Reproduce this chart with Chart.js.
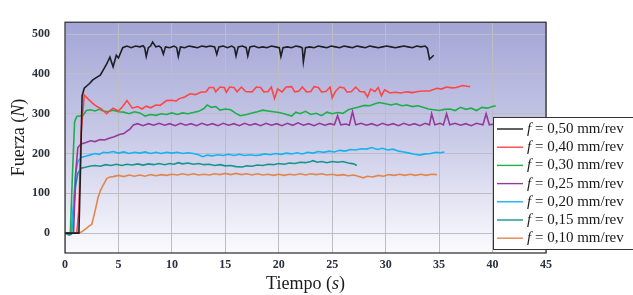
<!DOCTYPE html>
<html>
<head>
<meta charset="utf-8">
<script src="https://cdn.jsdelivr.net/npm/chart.js@4.4.1/dist/chart.umd.min.js"></script>
<style>
  html, body { margin: 0; padding: 0; background: #ffffff; }
  #wrap { width: 633px; height: 295px; }
</style>
</head>
<body>
<div id="wrap"><canvas id="fuerzaChart" width="633" height="295"></canvas></div>
<script>
// Tick labels
const xTicks = [0, 5, 10, 15, 20, 25, 30, 35, 40, 45];
const yTicks = [0, 100, 200, 300, 400, 500];

// Feed rates (legend)
const feeds = ['0,50', '0,40', '0,30', '0,25', '0,20', '0,15', '0,10'];
const colors = ['#1e1e24', '#ff4646', '#1fae4c', '#96399a', '#19b2f0', '#17948f', '#e0874f'];

// Series: [tiempo (s), fuerza (N)]
const f050 = [[0,0],[1.3,0],[1.45,160],[1.6,345],[1.8,364],[2,369],[2.3,376],[2.6,385],[3,392],[3.3,397],[3.6,411],[3.9,425],[4.2,442],[4.5,418],[4.8,447],[5,440],[5.4,466],[5.8,470],[6.2,466],[6.6,470],[7,468],[7.3,471],[7.45,466],[7.6,444],[7.8,466],[8,470],[8.2,480],[8.5,468],[8.8,470],[9,466],[9.2,450],[9.4,468],[9.8,466],[10.2,470],[10.45,466],[10.6,444],[10.8,468],[11.2,466],[11.6,470],[12,468],[12.4,466],[12.8,470],[13.2,468],[13.6,470],[14,468],[14.2,449],[14.4,468],[14.8,470],[15.2,466],[15.6,470],[15.85,466],[16,445],[16.2,468],[16.6,470],[16.95,466],[17.1,445],[17.3,468],[17.7,470],[18.1,466],[18.5,468],[18.9,466],[19.3,470],[19.7,468],[20.05,466],[20.2,444],[20.4,466],[20.8,468],[21.2,466],[21.6,470],[22,468],[22.2,465],[22.3,430],[22.5,466],[22.9,468],[23.3,466],[23.7,470],[24.1,468],[24.5,466],[24.9,470],[25.3,468],[25.7,466],[26.1,470],[26.5,468],[26.9,466],[27.3,470],[27.7,468],[28.1,466],[28.5,470],[28.9,468],[29.3,466],[29.7,468],[30.1,470],[30.5,468],[30.9,466],[31.3,468],[31.7,470],[32.1,468],[32.5,466],[32.9,470],[33.3,468],[33.7,470],[33.9,465],[34.1,437],[34.3,442],[34.5,447]];

const f040 = [[0,0],[1.1,0],[1.3,60],[1.5,250],[1.8,347],[2.2,336],[2.6,326],[3,318],[3.4,312],[3.9,300],[4.2,308],[4.5,314],[5,307],[5.4,318],[5.8,333],[6.3,314],[6.8,318],[7.2,312],[7.6,319],[8,315],[8.5,322],[8.9,321],[9.5,333],[10,334],[10.4,332],[10.7,338],[11.2,342],[11.7,350],[12.2,348],[12.7,354],[13.2,355],[13.5,366],[13.9,366],[14.1,355],[14.5,367],[14.9,366],[15.1,354],[15.4,367],[15.8,366],[16.1,355],[16.5,367],[16.9,356],[17.5,355],[17.9,367],[18.3,366],[18.6,355],[19,356],[19.3,367],[19.6,338],[19.9,362],[20.3,355],[20.7,367],[21.2,368],[21.5,355],[21.9,357],[22.2,367],[22.6,355],[23,356],[23.3,368],[23.7,366],[24,355],[24.4,356],[24.8,367],[25,340],[25.3,356],[25.7,367],[26.1,365],[26.4,354],[26.8,356],[27.2,367],[27.6,356],[28,355],[28.3,342],[28.6,362],[29,356],[29.3,366],[29.6,345],[29.9,360],[30.4,352],[30.9,354],[31.4,352],[32,355],[32.5,353],[33,356],[33.5,357],[34.1,357],[34.8,364],[35.2,362],[35.7,367],[36.2,365],[36.6,366],[37.2,371],[37.6,369],[37.9,368]];

const f030 = [[0,0],[0.5,0],[0.7,150],[0.9,280],[1.1,293],[1.5,295],[1.7,296],[2,308],[2.4,310],[2.8,307],[3.2,311],[3.6,307],[4,305],[4.5,309],[5,305],[5.5,304],[6,300],[6.5,305],[7,302],[7.5,294],[8,298],[8.5,296],[9,300],[9.5,298],[10,302],[10.5,298],[11,302],[11.5,300],[12,303],[12.5,306],[13,313],[13.3,322],[13.7,316],[14.1,318],[14.5,309],[15,312],[15.5,310],[16,301],[16.4,295],[17,298],[17.5,302],[18,305],[18.5,309],[19,307],[19.5,305],[20,303],[20.5,300],[21.2,294],[21.6,304],[22,300],[22.5,306],[23,298],[23.5,301],[24,295],[24.5,304],[25,300],[25.5,303],[26,301],[26.5,310],[27,314],[27.5,317],[28,321],[28.5,320],[29,325],[29.4,328],[30,325],[30.5,322],[31,325],[31.5,320],[32,322],[32.5,318],[33,320],[33.5,316],[34,312],[34.5,310],[35,308],[35.5,311],[36,312],[36.5,308],[37,316],[37.5,311],[38,314],[38.5,308],[39,316],[39.5,314],[40,318],[40.3,320]];

const f025 = [[0,0],[0.8,0],[1,150],[1.2,215],[1.5,224],[1.9,227],[2.4,232],[2.8,230],[3.3,235],[3.7,234],[4.2,239],[4.6,242],[5.1,248],[5.5,250],[5.8,256],[6.1,262],[6.4,272],[6.8,275],[7.3,270],[7.8,275],[8.3,271],[8.8,276],[9.3,271],[9.8,275],[10.3,270],[10.8,276],[11.3,271],[11.8,275],[12.3,270],[12.8,276],[13.3,271],[13.8,275],[14.3,270],[14.8,276],[15.3,271],[15.8,275],[16.3,270],[16.8,276],[17.3,271],[17.8,275],[18.3,270],[18.8,276],[19.3,271],[19.8,275],[20.3,270],[20.8,276],[21.3,271],[21.8,277],[22.3,271],[22.8,275],[23.3,270],[23.8,276],[24.3,271],[24.8,275],[25.2,272],[25.5,295],[25.8,272],[26.3,274],[26.6,271],[26.9,305],[27.2,272],[27.7,276],[28.2,271],[28.7,275],[29.2,270],[29.7,276],[30.2,271],[30.7,275],[31.2,270],[31.7,276],[32.2,271],[32.7,275],[33.2,270],[33.7,276],[34.1,272],[34.3,300],[34.6,272],[35.1,276],[35.4,272],[35.7,300],[36,272],[36.5,276],[37,271],[37.5,275],[38,270],[38.5,276],[39.1,272],[39.4,300],[39.7,272],[40.2,274],[40.7,270],[41.2,275],[41.7,272],[42.1,284],[42.6,280],[43,285],[43.4,283],[43.8,276],[44,274]];

const f020 = [[0,0],[0.6,0],[0.8,80],[1,150],[1.2,180],[1.5,190],[2,194],[2.3,196],[2.8,200],[3.2,198],[3.6,203],[4,202],[4.5,205],[5,201],[5.5,204],[6,200],[6.5,203],[7,201],[7.5,204],[8,200],[8.5,203],[9,200],[9.5,203],[10,201],[10.5,203],[11,200],[11.5,202],[12,200],[12.5,197],[12.9,192],[13.3,196],[13.8,194],[14.3,197],[14.8,195],[15.3,198],[15.8,195],[16.3,198],[16.8,195],[17.3,197],[17.8,195],[18.2,196],[18.7,199],[19.2,197],[19.7,200],[20.2,198],[20.7,201],[21.2,199],[21.7,202],[22.2,199],[22.7,203],[23.2,201],[23.7,205],[24.2,203],[24.7,206],[25.2,204],[25.7,208],[26.2,206],[26.7,210],[27.2,209],[27.7,212],[28.2,211],[28.7,215],[29.2,210],[29.7,213],[30.2,209],[30.7,211],[31.2,206],[31.7,204],[32.2,201],[32.7,198],[33.2,196],[33.7,199],[34.2,200],[34.7,203],[35.1,202],[35.5,204]];

const f015 = [[0,0],[0.4,-5],[0.6,-3],[0.8,60],[1,120],[1.2,150],[1.5,163],[2,166],[2.3,168],[2.8,170],[3.3,168],[3.8,172],[4.3,170],[4.8,173],[5.3,170],[5.8,173],[6.3,171],[6.8,174],[7.3,171],[7.8,174],[8.3,172],[8.8,175],[9.3,172],[9.8,175],[10.2,173],[10.6,177],[11,174],[11.5,176],[12,173],[12.5,175],[13,172],[13.5,173],[14,170],[14.5,172],[15,169],[15.5,170],[16,167],[16.6,166],[17,169],[17.5,168],[18,171],[18.5,170],[19,173],[19.5,172],[20,175],[20.5,173],[21,176],[21.5,175],[22,178],[22.5,177],[23,180],[23.2,182],[23.6,178],[24,180],[24.5,177],[25,180],[25.5,178],[26,180],[26.5,176],[27,174],[27.3,170]];

const f010 = [[0,0],[1.1,0],[1.5,2],[2,12],[2.3,19],[2.5,22],[2.8,54],[3.1,90],[3.3,106],[3.6,122],[3.9,137],[4.2,141],[4.5,142],[5,145],[5.5,142],[6,146],[6.5,143],[7,146],[7.5,143],[8,147],[8.5,144],[9,147],[9.5,145],[10,148],[10.5,146],[11,149],[11.5,146],[12,149],[12.5,146],[13,148],[13.5,146],[14,149],[14.5,147],[15,150],[15.5,147],[16,150],[16.5,147],[17,149],[17.5,146],[18,149],[18.5,146],[19,148],[19.5,145],[20,148],[20.5,145],[21,148],[21.5,146],[22,149],[22.5,146],[23,149],[23.5,147],[24,149],[24.5,146],[25,148],[25.5,145],[26,147],[26.5,144],[27,146],[27.5,142],[27.9,139],[28.3,143],[28.8,141],[29.3,145],[29.8,143],[30.3,147],[30.8,145],[31.3,148],[31.8,145],[32.3,148],[32.8,145],[33.3,148],[33.8,145],[34.3,148],[34.8,147]];

const seriesData = [f050, f040, f030, f025, f020, f015, f010];

const SERIF = '"Liberation Serif", "DejaVu Serif", serif';

// gradient background inside plot area
const bgPlugin = {
    id: 'bgPlugin',
    beforeDraw(chart) {
        const { ctx, chartArea: a } = chart;
        const g = ctx.createLinearGradient(0, a.top, 0, a.bottom);
        g.addColorStop(0, '#a3a6d6');
        g.addColorStop(0.5, '#c9cae7');
        g.addColorStop(1, '#fbfbfe');
        ctx.save();
        ctx.fillStyle = g;
        ctx.fillRect(a.left, a.top, a.right - a.left, a.bottom - a.top);
        ctx.restore();
    }
};

// draw pieces of text, some italic, starting at x
function drawPieces(ctx, pieces, x, y, size) {
    let cx = x;
    pieces.forEach(p => {
        ctx.font = (p.it ? 'italic ' : '') + size + 'px ' + SERIF;
        ctx.fillText(p.t, cx, y);
        cx += ctx.measureText(p.t).width;
    });
}
function piecesWidth(ctx, pieces, size) {
    let w = 0;
    pieces.forEach(p => {
        ctx.font = (p.it ? 'italic ' : '') + size + 'px ' + SERIF;
        w += ctx.measureText(p.t).width;
    });
    return w;
}

// frame, axis titles and legend
const overlayPlugin = {
    id: 'overlayPlugin',
    afterDraw(chart) {
        const { ctx, chartArea: a } = chart;
        ctx.save();
        // frame
        ctx.strokeStyle = '#2b2b2b';
        ctx.lineWidth = 1.2;
        ctx.strokeRect(a.left, a.top, a.right - a.left, a.bottom - a.top);

        // axis titles
        ctx.fillStyle = '#1a1a1a';
        ctx.textBaseline = 'middle';
        const xt = [{ t: 'Tiempo (' }, { t: 's', it: true }, { t: ')' }];
        const xw = piecesWidth(ctx, xt, 18);
        drawPieces(ctx, xt, (a.left + a.right) / 2 - xw / 2, 284, 18);

        const yt = [{ t: 'Fuerza (' }, { t: 'N', it: true }, { t: ')' }];
        const yw = piecesWidth(ctx, yt, 18);
        ctx.save();
        ctx.translate(19, (a.top + a.bottom) / 2);
        ctx.rotate(-Math.PI / 2);
        drawPieces(ctx, yt, -yw / 2, 0, 18);
        ctx.restore();

        // legend box
        const lx = 493, ly = 117, lh = 132;
        ctx.fillStyle = '#ffffff';
        ctx.fillRect(lx, ly, 160, lh);
        ctx.strokeStyle = '#333333';
        ctx.lineWidth = 1;
        ctx.strokeRect(lx + 0.5, ly + 0.5, 160, lh);
        chart.data.datasets.forEach((ds, i) => {
            const yy = 129 + i * 18.2;
            ctx.strokeStyle = ds.borderColor;
            ctx.lineWidth = 1.4;
            ctx.beginPath();
            ctx.moveTo(497, yy);
            ctx.lineTo(523, yy);
            ctx.stroke();
            ctx.fillStyle = '#1a1a1a';
            drawPieces(ctx, [{ t: 'f', it: true }, { t: ' = ' + feeds[i] + ' mm/rev' }], 527, yy, 15);
        });
        ctx.restore();
    }
};

const tickFont = { family: SERIF, size: 12, weight: 'bold' };

new Chart(document.getElementById('fuerzaChart'), {
    type: 'line',
    data: {
        datasets: seriesData.map((pts, i) => ({
            label: 'f = ' + feeds[i] + ' mm/rev',
            data: pts.map(p => ({ x: p[0], y: p[1] })),
            borderColor: colors[i],
            borderWidth: 1.6,
            pointRadius: 0,
            tension: 0,
            fill: false
        }))
    },
    options: {
        responsive: false,
        animation: false,
        devicePixelRatio: 1,
        layout: { padding: { left: 0, top: 10, right: 87, bottom: 0 } },
        plugins: {
            legend: { display: false },
            tooltip: { enabled: false }
        },
        scales: {
            x: {
                type: 'linear',
                min: 0,
                max: 45,
                afterBuildTicks: s => { s.ticks = xTicks.map(v => ({ value: v })); },
                afterFit: s => { s.height = 42; },
                grid: { color: '#bdbdc6', lineWidth: 1, drawTicks: false },
                border: { display: false },
                ticks: { font: tickFont, color: '#2a2f3a', padding: 5, maxRotation: 0 }
            },
            y: {
                min: -50,
                max: 530,
                afterBuildTicks: s => { s.ticks = yTicks.map(v => ({ value: v })); },
                afterFit: s => { s.width = 65; },
                grid: { color: '#bdbdc6', lineWidth: 1, drawTicks: false },
                border: { display: false },
                ticks: { font: tickFont, color: '#2a2f3a', padding: 15 }
            }
        }
    },
    plugins: [bgPlugin, overlayPlugin]
});
</script>
</body>
</html>
